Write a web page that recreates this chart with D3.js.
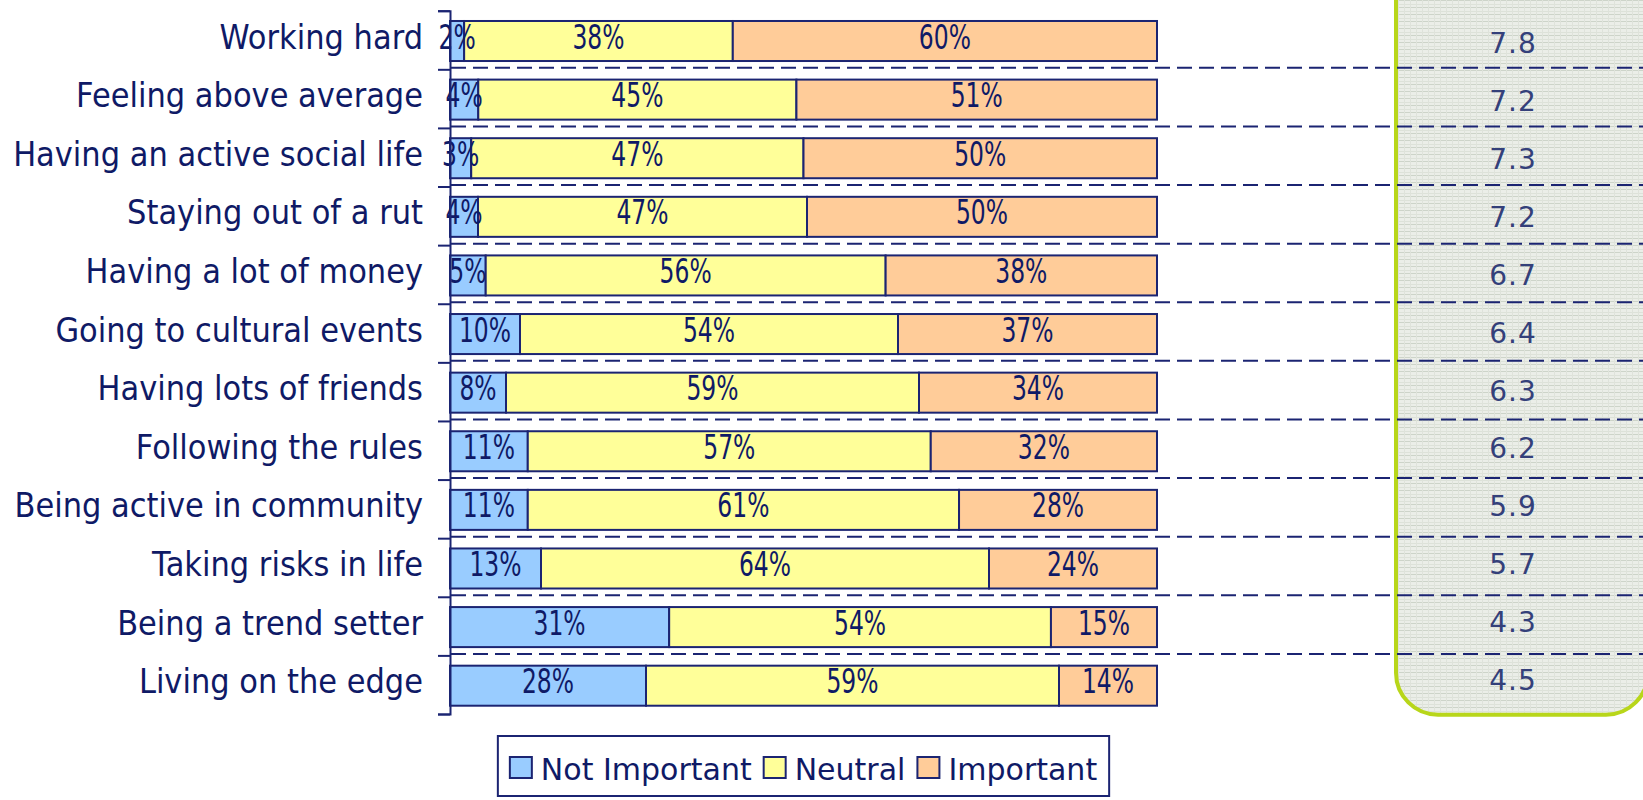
<!DOCTYPE html>
<html><head><meta charset="utf-8">
<script src="https://cdn.jsdelivr.net/npm/d3@7"></script>
<style>html,body{margin:0;padding:0;background:#fff;overflow:hidden}</style>
</head><body><svg id="c" width="1643" height="800"></svg>
<script>
const categories = ["Working hard","Feeling above average","Having an active social life","Staying out of a rut","Having a lot of money","Going to cultural events","Having lots of friends","Following the rules","Being active in community","Taking risks in life","Being a trend setter","Living on the edge"];
const notImportant = [2,4,3,4,5,10,8,11,11,13,31,28];
const neutral      = [38,45,47,47,56,54,59,57,61,64,54,59];
const important    = [60,51,50,50,38,37,34,32,28,24,15,14];
const meanScores   = ["7.8","7.2","7.3","7.2","6.7","6.4","6.3","6.2","5.9","5.7","4.3","4.5"];
const seriesNames  = ["Not Important","Neutral","Important"];
const seriesColors = ["#99ccff","#ffff99","#ffcc99"];

const svg = d3.select("#c");
const navy = "#1b2472", textNavy = "#0f1a66", font = "DejaVu Sans, sans-serif";
const plot = {left:450, right:1157, top:10.7, bottom:714};

const table = categories.map((c,i)=>({cat:c, "Not Important":notImportant[i], "Neutral":neutral[i], "Important":important[i]}));
const stacked = d3.stack().keys(seriesNames).offset(d3.stackOffsetExpand)(table);

const y = d3.scaleBand().domain(categories).range([plot.top, plot.bottom]).paddingInner(0.317).paddingOuter(0.1585);
const x = d3.scaleLinear().domain([0,1]).range([plot.left, plot.right]);
const color = d3.scaleOrdinal().domain(seriesNames).range(seriesColors);
const step = y.step();
const barMid = c => y(c) + y.bandwidth()/2 + 1;

// right panel
const defs = svg.append("defs");
const pat = defs.append("pattern").attr("id","grid").attr("width",6).attr("height",7).attr("patternUnits","userSpaceOnUse");
pat.append("rect").attr("width",6).attr("height",7).attr("fill","#ebeee8");
pat.append("rect").attr("width",6).attr("height",1).attr("fill","#cdd4c9");
pat.append("rect").attr("y",4).attr("width",6).attr("height",1).attr("fill","#dde2d9");
pat.append("rect").attr("width",1).attr("height",7).attr("fill","#dfe3db");
svg.append("rect").attr("x",1396).attr("y",-60).attr("width",252).attr("height",774.7).attr("rx",42)
  .attr("fill","url(#grid)").attr("stroke","#b8d61a").attr("stroke-width",4);

// dashed separators
svg.append("g").selectAll("line").data(categories.slice(1)).join("line")
  .attr("x1",plot.left+1).attr("x2",1643)
  .attr("y1",d=>y(d)-y.paddingInner()*step/2-1.5).attr("y2",d=>y(d)-y.paddingInner()*step/2-1.5)
  .attr("stroke",navy).attr("stroke-width",2).attr("stroke-dasharray","15 7");

// bars
const layer = svg.append("g").selectAll("g").data(stacked).join("g").attr("fill",d=>color(d.key));
layer.selectAll("rect").data(d=>d).join("rect")
  .attr("x",d=>x(d[0])).attr("width",d=>x(d[1])-x(d[0]))
  .attr("y",d=>y(d.data.cat)+1).attr("height",y.bandwidth())
  .attr("stroke",navy).attr("stroke-width",2);

// segment labels
stacked.forEach(s=>{
  svg.append("g").selectAll("text").data(s).join("text")
    .attr("transform",d=>`translate(${(x(d[0])+x(d[1]))/2},${barMid(d.data.cat)+7.5}) scale(0.69,1)`)
    .attr("text-anchor","middle").attr("font-family",font).attr("font-size",34).attr("fill",textNavy)
    .text(d=>d.data[s.key]+"%");
});

// axis with ticks at band boundaries
const yb = d3.scaleLinear().domain([0,categories.length]).range([plot.top, plot.bottom]);
const ax = svg.append("g").attr("transform",`translate(${plot.left},0)`)
  .call(d3.axisLeft(yb).tickValues(d3.range(categories.length+1)).tickSize(12).tickSizeOuter(12).tickFormat(""));
ax.selectAll("path,line").attr("stroke",navy).attr("stroke-width",2);

// category labels
svg.append("g").selectAll("text").data(categories).join("text")
  .attr("transform",d=>`translate(423,${barMid(d)+7.5}) scale(0.925,1)`)
  .attr("text-anchor","end").attr("font-family",font).attr("font-size",33).attr("fill",textNavy)
  .text(d=>d);

// panel values
const yp = d3.scalePoint().domain(categories).range([53.3,690]);
svg.append("g").selectAll("text").data(categories).join("text")
  .attr("x",1513).attr("y",d=>yp(d)).attr("text-anchor","middle")
  .attr("font-family",font).attr("font-size",28).attr("fill","#34407a").attr("letter-spacing",1)
  .text((d,i)=>meanScores[i]);

// legend
const lg = svg.append("g");
let cursor = 0;
seriesNames.forEach((n)=>{
  const g = lg.append("g");
  g.append("rect").attr("x",cursor).attr("y",757).attr("width",22).attr("height",21)
    .attr("fill",color(n)).attr("stroke",navy).attr("stroke-width",2);
  const t = g.append("text").attr("x",cursor+31).attr("y",780).attr("font-family",font)
    .attr("font-size",30).attr("fill",textNavy).text(n);
  cursor += 31 + t.node().getComputedTextLength() + 12;
});
const contentW = cursor - 12;
const cx = (plot.left+plot.right)/2;
const lx = cx - contentW/2;
lg.attr("transform",`translate(${lx},0)`);
lg.insert("rect",":first-child").attr("x",-12).attr("y",736).attr("width",contentW+24).attr("height",60)
  .attr("fill","#fff").attr("stroke",navy).attr("stroke-width",2);
</script></body></html>
